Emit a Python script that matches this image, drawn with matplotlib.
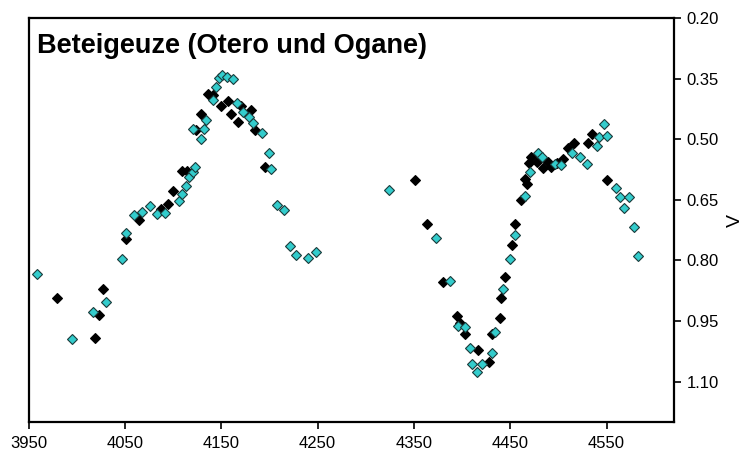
import matplotlib
matplotlib.use("Agg")
import matplotlib.pyplot as plt
from matplotlib.ticker import FixedLocator, FormatStrFormatter

plt.rcParams['font.family'] = ['Liberation Sans', 'DejaVu Sans']

title = "Beteigeuze (Otero und Ogane)"
ylabel = "V"

# Series 1: black diamonds (JD - 2450000 style day, V magnitude)
black_x = [3980, 4019, 4023, 4027, 4051, 4065, 4088, 4095, 4100, 4109, 4114,
           4124, 4129, 4136, 4142, 4150, 4157, 4160, 4167, 4171, 4181, 4185,
           4195, 4351, 4364, 4380, 4395, 4398, 4403, 4417, 4428, 4431, 4439,
           4440, 4445, 4452, 4455, 4461, 4465, 4467, 4469, 4472, 4478, 4484,
           4489, 4492, 4499, 4505, 4510, 4516, 4531, 4535, 4550]
black_v = [0.894, 0.991, 0.934, 0.871, 0.746, 0.700, 0.673, 0.661, 0.628, 0.579, 0.579,
           0.477, 0.438, 0.389, 0.390, 0.418, 0.406, 0.438, 0.458, 0.418, 0.428, 0.477,
           0.569, 0.602, 0.710, 0.854, 0.938, 0.956, 0.983, 1.022, 1.051, 0.983, 0.942,
           0.892, 0.842, 0.763, 0.710, 0.650, 0.598, 0.612, 0.560, 0.543, 0.556, 0.571,
           0.557, 0.570, 0.558, 0.548, 0.521, 0.509, 0.509, 0.488, 0.600]

# Series 2: cyan diamonds
cyan_x = [3959, 3995, 4017, 4030, 4047, 4051, 4059, 4068, 4076, 4083, 4092,
          4106, 4109, 4113, 4117, 4121, 4123, 4121, 4129, 4132, 4134, 4142,
          4145, 4148, 4151, 4156, 4162, 4166, 4173, 4179, 4183, 4192, 4200,
          4202, 4208, 4215, 4221, 4228, 4240, 4248, 4324, 4373, 4387, 4396,
          4403, 4408, 4410, 4416, 4421, 4431, 4434, 4443, 4450, 4455, 4465,
          4471, 4479, 4483, 4496, 4503, 4514, 4522, 4530, 4540, 4542, 4547,
          4550, 4560, 4564, 4568, 4573, 4579, 4583]
cyan_v = [0.834, 0.995, 0.928, 0.903, 0.796, 0.733, 0.688, 0.681, 0.665, 0.685, 0.682,
          0.654, 0.636, 0.615, 0.594, 0.582, 0.569, 0.475, 0.499, 0.475, 0.452, 0.402,
          0.371, 0.349, 0.340, 0.347, 0.351, 0.410, 0.432, 0.445, 0.459, 0.484, 0.533,
          0.573, 0.664, 0.675, 0.764, 0.787, 0.795, 0.779, 0.626, 0.745, 0.850, 0.962,
          0.966, 1.018, 1.056, 1.077, 1.056, 1.028, 0.978, 0.870, 0.797, 0.738, 0.641,
          0.582, 0.533, 0.545, 0.561, 0.565, 0.534, 0.545, 0.561, 0.516, 0.495, 0.463,
          0.491, 0.622, 0.642, 0.670, 0.642, 0.717, 0.789]

x_ticks = [3950, 4050, 4150, 4250, 4350, 4450, 4550]
y_ticks = [0.20, 0.35, 0.50, 0.65, 0.80, 0.95, 1.10]

fig = plt.figure(figsize=(7.44, 4.59), dpi=100)
ax = fig.add_axes([28.5 / 744, 1 - 422 / 459, (674 - 28.5) / 744, (422 - 18) / 459])

ax.plot(black_x, black_v, linestyle='none', marker='D', markersize=5.0,
        markerfacecolor='black', markeredgecolor='black', markeredgewidth=0.8, zorder=3)
ax.plot(cyan_x, cyan_v, linestyle='none', marker='D', markersize=5.0,
        markerfacecolor='#33CCCC', markeredgecolor='#1a3a3a', markeredgewidth=0.8, zorder=4)

ax.set_xlim(3950, 4620)
ax.set_ylim(1.20, 0.20)

ax.xaxis.set_major_locator(FixedLocator(x_ticks))
ax.yaxis.set_major_locator(FixedLocator(y_ticks))
ax.yaxis.set_major_formatter(FormatStrFormatter('%.2f'))

ax.yaxis.tick_right()
ax.yaxis.set_label_position('right')
ax.tick_params(axis='both', direction='out', length=5, width=1.2, colors='black',
               labelsize=12)
ax.tick_params(axis='y', pad=4)
ax.tick_params(axis='x', pad=5)

for s in ax.spines.values():
    s.set_linewidth(1.6)
    s.set_color('black')

ax.set_ylabel(ylabel, fontsize=14, rotation=90, labelpad=6)

fig.text(37 / 744, 1 - 53 / 459, title, fontsize=19.5, fontweight='bold',
         ha='left', va='baseline')

fig.savefig('out.png', dpi=100, facecolor='white')
